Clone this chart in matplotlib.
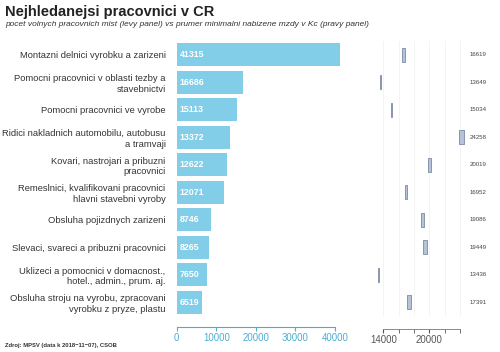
import matplotlib
matplotlib.use("Agg")
import matplotlib.pyplot as plt
import matplotlib.transforms as mtransforms

plt.rcParams['font.family'] = ['Liberation Sans', 'DejaVu Sans']

# ── data ──────────────────────────────────────────────────────────────────────
categories = [
    "Montazni delnici vyrobku a zarizeni",
    "Pomocni pracovnici v oblasti tezby a\nstavebnictvi",
    "Pomocni pracovnici ve vyrobe",
    "Ridici nakladnich automobilu, autobusu\na tramvaji",
    "Kovari, nastrojari a pribuzni\npracovnici",
    "Remeslnici, kvalifikovani pracovnici\nhlavni stavebni vyroby",
    "Obsluha pojizdnych zarizeni",
    "Slevaci, svareci a pribuzni pracovnici",
    "Uklizeci a pomocnici v domacnost.,\nhotel., admin., prum. aj.",
    "Obsluha stroju na vyrobu, zpracovani\nvyrobku z pryze, plastu",
]
vacancies = [41315, 16686, 15113, 13372, 12622, 12071, 8746, 8265, 7650, 6519]
wages = [16619, 13649, 15034, 24258, 20019, 16952, 19086, 19449, 13436, 17391]
wage_spread = [430, 130, 130, 650, 350, 350, 430, 520, 130, 520]

left_ticks = [0, 10000, 20000, 30000, 40000]
right_ticks = [14000, 20000]
right_minor = [16000, 18000, 22000, 24000]

# ── figure ────────────────────────────────────────────────────────────────────
fig = plt.figure(figsize=(5, 3.52), dpi=100)
bottom, height = 36 / 352, 275 / 352
axL = fig.add_axes([176.7 / 500, bottom, 166.2 / 500, height])
axR = fig.add_axes([371.8 / 500, bottom, 97.4 / 500, height])

ypos = list(range(len(categories)))

# left panel: vacancies
axL.barh(ypos, vacancies, height=0.82, color="#82cde8")
for y, v in zip(ypos, vacancies):
    axL.text(700, y, str(v), color="white", fontweight="bold", fontsize=6.4,
             va="center", ha="left")
axL.set_xlim(0, 42000)
axL.set_ylim(len(categories) - 0.5, -0.5)
axL.set_yticks(ypos)
axL.set_yticklabels(categories, fontsize=6.75, color="#333333", linespacing=1.25)
axL.tick_params(axis="y", length=0, pad=8)
axL.set_xticks(left_ticks)
axL.tick_params(axis="x", colors="#4aaed2", labelsize=6.9, length=3, pad=1.5)
for s in ["top", "right", "left"]:
    axL.spines[s].set_visible(False)
axL.spines["bottom"].set_position(("outward", 8))
axL.spines["bottom"].set_bounds(0, 40000)
axL.spines["bottom"].set_color("#4aaed2")
axL.spines["bottom"].set_linewidth(0.8)

# right panel: offered wages
axR.barh(ypos, wage_spread, left=[w - s / 2 for w, s in zip(wages, wage_spread)],
         height=0.5, color="#b4c3d8", edgecolor="#7a8aa3", linewidth=0.6, zorder=3)
axR.set_xlim(12500, 25200)
axR.set_ylim(len(categories) - 0.5, -0.5)
axR.set_yticks([])
axR.set_xticks(right_ticks)
axR.set_xticks(right_minor, minor=True)
for g in right_ticks + right_minor:
    axR.axvline(g, color="#f0f0f0", linewidth=0.5, zorder=0)
axR.tick_params(axis="x", which="both", colors="#555555", labelsize=6.9,
                length=3, pad=1.5)
for s in ["top", "right", "left"]:
    axR.spines[s].set_visible(False)
axR.spines["bottom"].set_position(("outward", 9))
axR.spines["bottom"].set_bounds(14000, 24000)
axR.spines["bottom"].set_color("#777777")
axR.spines["bottom"].set_linewidth(0.6)

trans = mtransforms.blended_transform_factory(fig.transFigure, axR.transData)
for y, w in zip(ypos, wages):
    axR.text(478 / 500, y, str(w), transform=trans, fontsize=4.4,
             color="#444444", ha="center", va="center")

# titles and source
fig.text(5 / 500, 1 - 12 / 352, "Nejhledanejsi pracovnici v CR", fontsize=10.5,
         fontweight="bold", color="#222222", va="center", ha="left")
fig.text(5 / 500, 1 - 24 / 352,
         "pocet volnych pracovnich mist (levy panel) vs prumer minimalni "
         "nabizene mzdy v Kc (pravy panel)",
         fontsize=6.0, style="italic", color="#333333", va="center", ha="left")
fig.text(5 / 500, 1 - 345 / 352, "Zdroj: MPSV (data k 2018\u221211\u221207), CSOB",
         fontsize=4.2, fontweight="bold", color="#333333", va="center", ha="left")

fig.savefig("out.png", dpi=100)
